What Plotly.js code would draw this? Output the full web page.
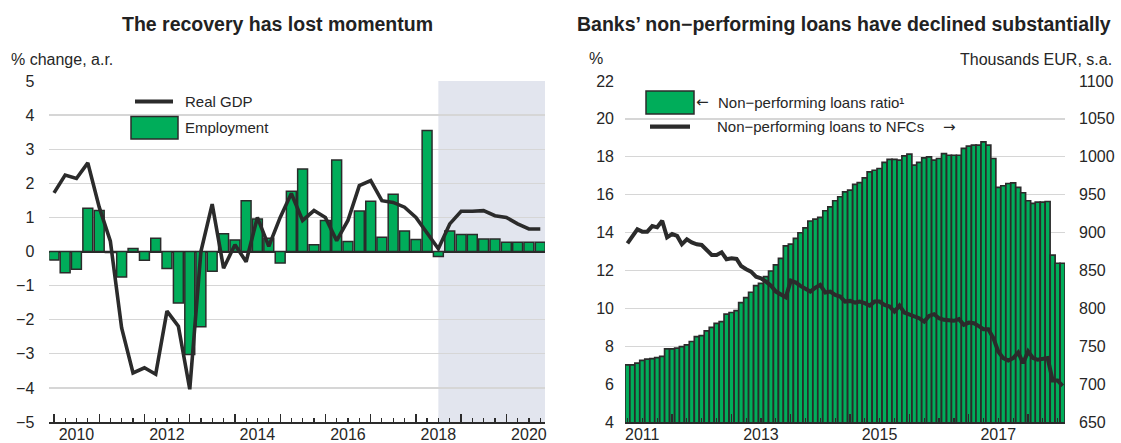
<!DOCTYPE html>
<html><head><meta charset="utf-8">
<script src="https://cdn.plot.ly/plotly-3.0.1.min.js"></script>
<style>html,body{margin:0;padding:0;background:#fff}#chart{width:1121px;height:443px}</style>
</head><body><div id="chart"></div>
<script>
// ---------- Left panel data (quarterly, % change a.r.) ----------
const quarters = ["2010-01","2010-04","2010-07","2010-10","2011-01","2011-04","2011-07","2011-10",
  "2012-01","2012-04","2012-07","2012-10","2013-01","2013-04","2013-07","2013-10",
  "2014-01","2014-04","2014-07","2014-10","2015-01","2015-04","2015-07","2015-10",
  "2016-01","2016-04","2016-07","2016-10","2017-01","2017-04","2017-07","2017-10",
  "2018-01","2018-04","2018-07","2018-10","2019-01","2019-04","2019-07","2019-10",
  "2020-01","2020-04","2020-07","2020-10"];
const employment = [-0.25,-0.62,-0.52,1.27,1.2,-0.03,-0.75,0.09,-0.26,0.39,-0.5,-1.51,
  -3.02,-2.21,-0.58,0.52,0.34,1.49,0.95,0.39,-0.34,1.77,2.42,0.2,
  0.91,2.68,0.29,1.19,1.47,0.42,1.68,0.6,0.35,3.55,-0.15,0.6,
  0.5,0.5,0.37,0.37,0.27,0.27,0.27,0.27];
const realGDP = [1.72,2.24,2.14,2.6,1.3,0.3,-2.24,-3.56,-3.41,-3.6,-1.75,-2.19,
  -4.04,0.0,1.39,-0.49,0.2,-0.3,1.0,0.15,1.0,1.7,0.91,1.2,
  1.0,0.32,0.91,1.93,2.08,1.49,1.44,1.3,1.0,0.52,0.08,0.81,
  1.18,1.18,1.2,1.05,1.0,0.81,0.66,0.66];
const forecastStart = "2018-07-01";
const leftTickVals = ["2010-07-01","2012-07-01","2014-07-01","2016-07-01","2018-07-01","2020-07-01"];
const leftTickText = ["2010","2012","2014","2016","2018","2020"];

// ---------- Right panel data (monthly) ----------
const months = ["2011-04","2011-05","2011-06","2011-07","2011-08","2011-09","2011-10","2011-11","2011-12",
  "2012-01","2012-02","2012-03","2012-04","2012-05","2012-06","2012-07","2012-08","2012-09","2012-10","2012-11","2012-12",
  "2013-01","2013-02","2013-03","2013-04","2013-05","2013-06","2013-07","2013-08","2013-09","2013-10","2013-11","2013-12",
  "2014-01","2014-02","2014-03","2014-04","2014-05","2014-06","2014-07","2014-08","2014-09","2014-10","2014-11","2014-12",
  "2015-01","2015-02","2015-03","2015-04","2015-05","2015-06","2015-07","2015-08","2015-09","2015-10","2015-11","2015-12",
  "2016-01","2016-02","2016-03","2016-04","2016-05","2016-06","2016-07","2016-08","2016-09","2016-10","2016-11","2016-12",
  "2017-01","2017-02","2017-03","2017-04","2017-05","2017-06","2017-07","2017-08","2017-09","2017-10","2017-11","2017-12",
  "2018-01","2018-02","2018-03","2018-04","2018-05","2018-06","2018-07","2018-08"];
const nplRatio = [7.02,7.02,7.11,7.25,7.32,7.35,7.4,7.46,7.86,
  7.86,7.9,7.98,8.07,8.25,8.51,8.56,8.81,9.0,9.21,9.3,9.69,
  9.78,9.88,10.3,10.56,10.85,11.2,11.32,11.67,11.97,12.29,12.64,13.3,
  13.39,13.69,13.99,14.25,14.61,14.71,14.8,15.15,15.36,15.68,15.89,16.15,
  16.24,16.54,16.64,16.89,17.2,17.29,17.38,17.7,17.86,17.86,17.82,18.05,
  18.14,17.56,17.7,17.94,17.99,17.82,17.91,18.17,18.08,18.08,18.08,18.44,
  18.56,18.61,18.61,18.79,18.61,17.91,16.38,16.47,16.59,16.62,16.38,16.1,
  15.68,15.54,15.61,15.61,15.64,12.81,12.38,12.38];
const nplNFC = [885.8,895.5,904.3,901.2,901.2,908.6,906.9,915.6,893.7,
  898,895.5,884.5,891.1,887.1,884.5,883.6,877,870.4,870.4,874,864.8,
  866.1,865.2,855.9,851.6,848.4,841.8,839.7,835.2,829.8,822.1,817.7,814.7,
  836.6,834,829.6,826.5,822.1,827.3,830.9,820.8,822.1,817.7,815.5,808.9,
  809.8,807.6,808.9,806.8,803.6,808.9,808.9,804.5,802.3,795.7,803.6,794.4,
  791.4,789.1,787,782.5,790,792.3,787,784.8,783.5,783.5,785.7,778.2,
  781.2,780.4,776.9,772.5,772.5,760.7,743,734.3,731.2,734.3,741.7,727.7,
  743,734.3,732.1,733,734.3,704.8,704.8,697.8];
const rightTickVals = ["2011-07-01","2013-07-01","2015-07-01","2017-07-01"];
const rightTickText = ["2011","2013","2015","2017"];

// ---------- Styling ----------
const W = 1121, H = 443;
const GREEN = "#00ad5a", DARK = "#2b2b2b", GRID = "#d6d6d6", TXT = "#262626";
const FONT = "Liberation Sans, Arial, sans-serif";
const ARROWFONT = "DejaVu Sans, Liberation Sans, sans-serif";
const px = x => x / W, py = y => 1 - y / H;
const DAY = 86400000;
const leftRange = ["2009-11-24", "2020-11-08"];
const rightRange = ["2011-03-17", "2018-08-16"];
const yDom = [py(422), py(81)];

const traces = [
  {type: "bar", x: quarters, y: employment, xaxis: "x", yaxis: "y", width: 80 * DAY,
   marker: {color: GREEN, line: {color: DARK, width: 1.5}}, showlegend: false, hoverinfo: "skip"},
  {type: "scatter", mode: "lines", x: quarters, y: realGDP, xaxis: "x3", yaxis: "y",
   line: {color: DARK, width: 3.6}, showlegend: false, hoverinfo: "skip"},
  {type: "bar", x: months, y: nplRatio, xaxis: "x2", yaxis: "y2", width: 30.4 * DAY,
   marker: {color: GREEN, line: {color: DARK, width: 1.7}}, showlegend: false, hoverinfo: "skip"},
  {type: "scatter", mode: "lines", x: months, y: nplNFC, xaxis: "x4", yaxis: "y3",
   line: {color: DARK, width: 4}, showlegend: false, hoverinfo: "skip"}
];

const tickAxis = (dom, range, t0, anchor) => ({
  domain: dom, anchor: anchor, type: "date", range: range,
  tickmode: "linear", tick0: t0, dtick: "M12",
  ticks: "inside", ticklen: 8, tickwidth: 1.3, tickcolor: DARK,
  minor: {ticks: "inside", ticklen: 4, tickwidth: 1.2, tickcolor: DARK, dtick: "M3", tick0: t0, showgrid: false},
  showticklabels: false, showgrid: false, zeroline: false,
  showline: true, linecolor: DARK, linewidth: 1.5, fixedrange: true
});
const labelAxis = (over, anchor, range, vals, text) => ({
  overlaying: over, anchor: anchor, type: "date", range: range,
  tickmode: "array", tickvals: vals, ticktext: text, ticks: "",
  ticklabelstandoff: 1, tickfont: {size: 16, color: TXT},
  showgrid: false, zeroline: false, showline: false, fixedrange: true
});

const ann = (text, x, y, o = {}) => Object.assign({
  text: text, x: px(x), y: py(y), xref: "paper", yref: "paper",
  xanchor: "left", yanchor: "middle", showarrow: false,
  font: {family: FONT, size: 16, color: TXT}
}, o);
const LEG = {family: FONT, size: 15, color: TXT};
const ARR = {family: ARROWFONT, size: 15, color: TXT};

const layout = {
  width: W, height: H,
  margin: {l: 0, r: 0, t: 0, b: 0},
  paper_bgcolor: "#ffffff", plot_bgcolor: "rgba(0,0,0,0)",
  font: {family: FONT, size: 16, color: TXT},
  showlegend: false,
  xaxis: tickAxis([px(49.3), px(545)], leftRange, "2010-01-01", "y"),
  xaxis3: labelAxis("x", "y", leftRange, leftTickVals, leftTickText),
  yaxis: {domain: yDom, anchor: "x", range: [-5, 5], dtick: 1, tick0: 0,
    showgrid: true, gridcolor: GRID, gridwidth: 1.3,
    zeroline: true, zerolinecolor: DARK, zerolinewidth: 2,
    showline: false, ticks: "", ticklabelstandoff: 14, tickfont: {size: 16, color: TXT}, fixedrange: true},
  xaxis2: tickAxis([px(625), px(1065)], rightRange, "2011-01-01", "y2"),
  xaxis4: labelAxis("x2", "y2", rightRange, rightTickVals, rightTickText),
  yaxis2: {domain: yDom, anchor: "x2", range: [4, 22], dtick: 2, tick0: 0,
    showgrid: true, gridcolor: GRID, gridwidth: 1.3, zeroline: false,
    showline: false, ticks: "", ticklabelstandoff: 10, tickfont: {size: 16, color: TXT}, fixedrange: true},
  yaxis3: {overlaying: "y2", anchor: "x2", side: "right", range: [650, 1100], dtick: 50, tick0: 0,
    showgrid: false, zeroline: false, showline: false, ticks: "",
    ticklabelstandoff: 13, tickfont: {size: 16, color: TXT}, fixedrange: true},
  shapes: [
    {type: "rect", xref: "x", yref: "y", x0: forecastStart, x1: leftRange[1], y0: -5, y1: 5,
     fillcolor: "#e2e5ee", line: {width: 0}, layer: "below"},
    // left legend keys
    {type: "line", xref: "paper", yref: "paper", x0: px(135), x1: px(173), y0: py(101.5), y1: py(101.5),
     line: {color: DARK, width: 4}},
    {type: "rect", xref: "paper", yref: "paper", x0: px(131), x1: px(178), y0: py(139), y1: py(116.5),
     fillcolor: GREEN, line: {color: DARK, width: 1.5}},
    // right legend keys
    {type: "rect", xref: "paper", yref: "paper", x0: px(646), x1: px(694), y0: py(114), y1: py(91),
     fillcolor: GREEN, line: {color: DARK, width: 1.5}},
    {type: "line", xref: "paper", yref: "paper", x0: px(650), x1: px(690), y0: py(126.7), y1: py(126.7),
     line: {color: DARK, width: 4.3}}
  ],
  annotations: [
    ann("<b>The recovery has lost momentum</b>", 277, 24, {xanchor: "center", font: {family: FONT, size: 19.5, color: "#222"}}),
    ann("<b>Banks\u2019 non\u2212performing loans have declined substantially</b>", 843.5, 24, {xanchor: "center", font: {family: FONT, size: 19.5, color: "#222"}}),
    ann("% change, a.r.", 9, 59),
    ann("%", 587, 58),
    ann("Thousands EUR, s.a.", 1114, 59, {xanchor: "right"}),
    ann("Real GDP", 183, 101.5, {font: LEG}),
    ann("Employment", 183, 127.5, {font: LEG}),
    ann("\u2190", 694, 102, {font: ARR}),
    ann("Non\u2212performing loans ratio\u00b9", 716, 102, {font: LEG}),
    ann("Non\u2212performing loans to NFCs", 714.5, 127, {font: LEG}),
    ann("\u2192", 941, 127, {font: ARR})
  ]
};

Plotly.newPlot("chart", traces, layout, {staticPlot: true, displayModeBar: false});
</script>
</body></html>
